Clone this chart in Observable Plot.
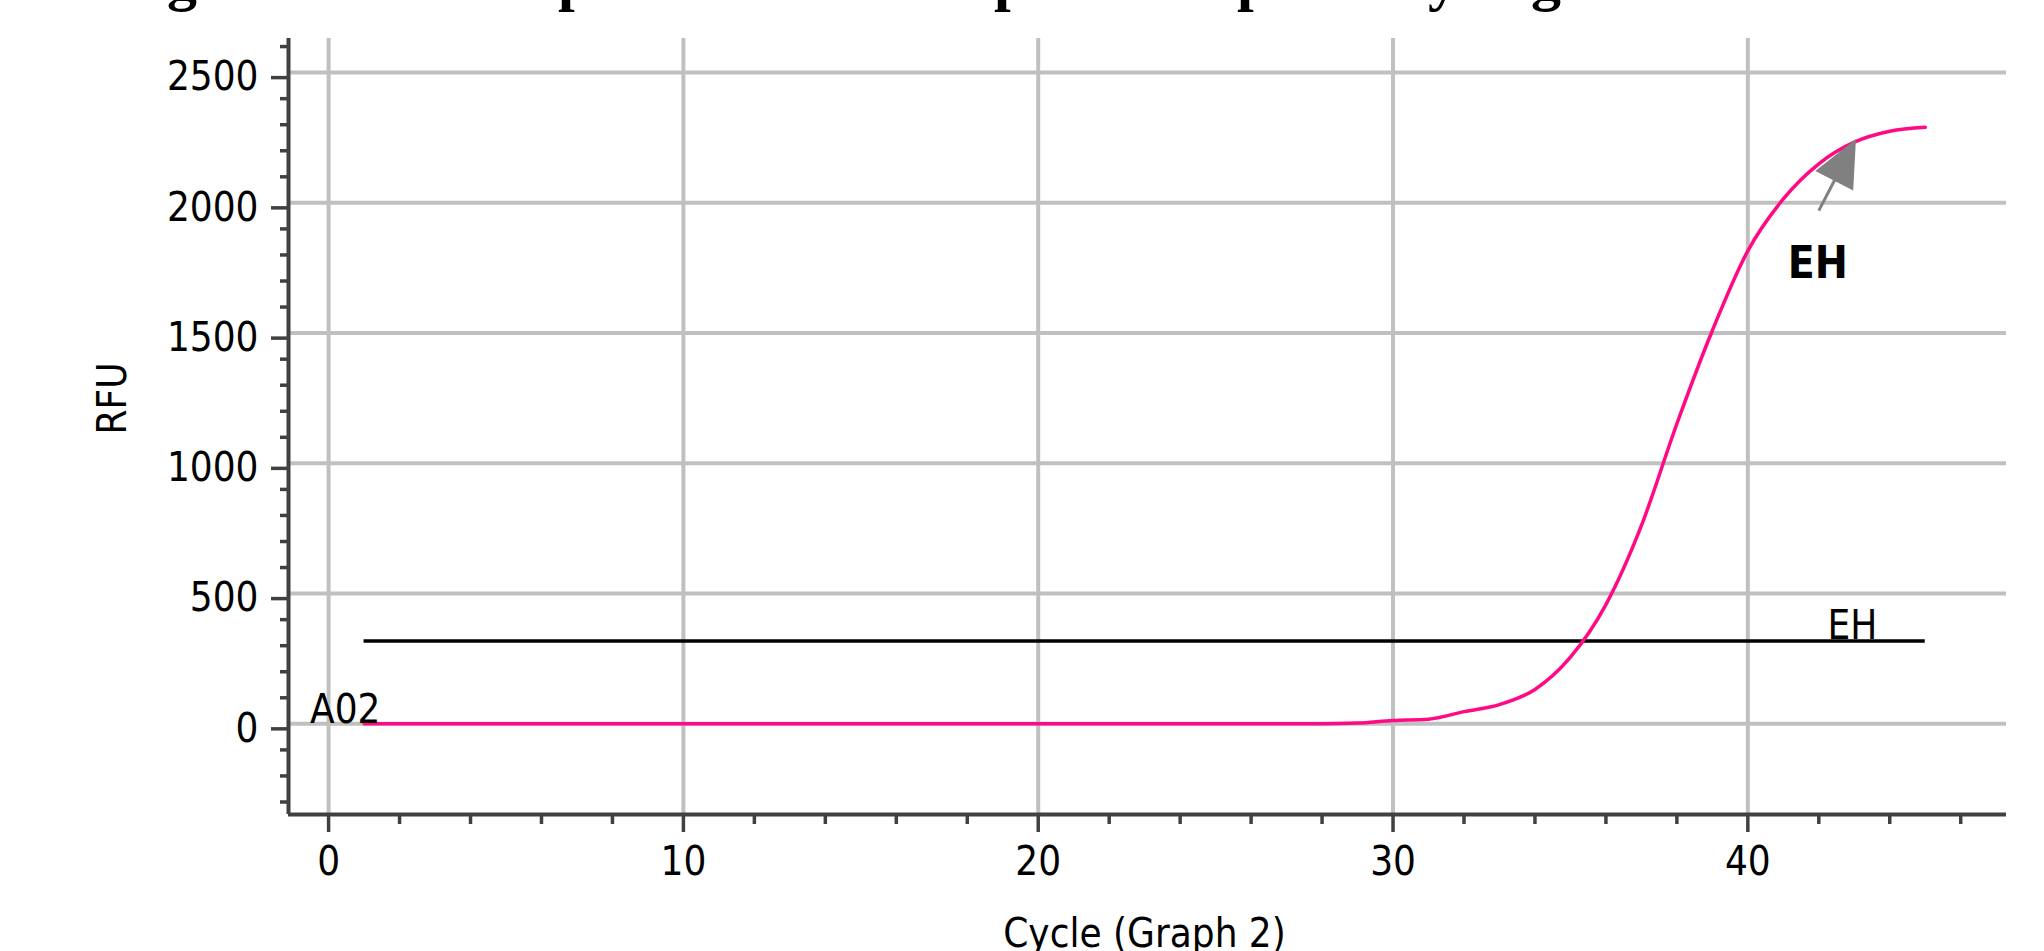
<!DOCTYPE html>
<html>
<head>
<meta charset="utf-8">
<script src="https://cdn.jsdelivr.net/npm/d3@7"></script>
<script src="https://cdn.jsdelivr.net/npm/@observablehq/plot@0.6"></script>
<style>
  html, body { margin: 0; padding: 0; background: #fff; overflow: hidden; }
  #wrap { position: relative; width: 2044px; height: 951px; }
  #wrap svg { display: block; }
  #caption { position: absolute; left: 0; top: 0; }
</style>
</head>
<body>
<div id="wrap">
  <svg id="caption" width="2044" height="14" xmlns="http://www.w3.org/2000/svg">
    <g font-family="'Liberation Serif', 'DejaVu Serif', serif" font-weight="bold" font-size="60" fill="#000">
      <text x="167" y="-1">g</text>
      <text x="558" y="-1">p</text>
      <text x="994" y="-1">p</text>
      <text x="1237" y="-1">p</text>
      <text x="1428" y="-1">y</text>
      <text x="1531" y="-1">g</text>
    </g>
  </svg>
</div>
<script>
// ---- data ----
const cycles = [1,2,3,4,5,6,7,8,9,10,11,12,13,14,15,16,17,18,19,20,21,22,23,24,25,26,27,28,29,30,31,32,33,34,35,36,37,38,39,40,41,42,43,44,45];
const rfu    = [0,0,0,0,0,0,0,0,0,0,0,0,0,0,0,0,0,0,0,0,0,0,0,0,0,0,0,0,3,13,18,47,74,132,256,458,761,1152,1510,1816,2015,2150,2233,2275,2290];
const sampleName = "A02";
const thresholdRFU = 318;
const thresholdSpan = [1, 45];
const thresholdName = "EH";
const arrowTail = [42, 1970];
const arrowTarget = [43, 2233];
const arrowLabel = "EH";
const xDomain = [-1.13, 47.29];
const yDomain = [-348, 2631];
const xMajorTicks = [0, 10, 20, 30, 40];
const xMinorTicks = [2, 4, 6, 8, 12, 14, 16, 18, 22, 24, 26, 28, 32, 34, 36, 38, 42, 44, 46];
const yMajorTicks = [0, 500, 1000, 1500, 2000, 2500];
const yMinorTicks = [-300, -200, -100, 100, 200, 300, 400, 600, 700, 800, 900, 1100, 1200, 1300, 1400, 1600, 1700, 1800, 1900, 2100, 2200, 2300, 2400, 2600];
const xLabel = "Cycle (Graph 2)";
const yLabel = "RFU";

// ---- layout ----
const W = 2044, H = 951;
const M = {top: 38, right: 38, bottom: 137, left: 288};
const font = "'DejaVu Sans Condensed', 'DejaVu Sans', sans-serif";
const axisColor = "#404040";
const gridColor = "#c0c0c0";
const curveColor = "#ff0a84";
const plain = d => String(d);

const curve = cycles.map((c, i) => ({cycle: c, rfu: rfu[i]}));

// scales used to orient the annotation arrow
const xs = Plot.scale({x: {domain: xDomain, range: [M.left, W - M.right]}});
const ys = Plot.scale({y: {domain: yDomain, range: [H - M.bottom, M.top]}});
const tx = xs.apply(arrowTail[0]), ty = ys.apply(arrowTail[1]);
const hx = xs.apply(arrowTarget[0]), hy = ys.apply(arrowTarget[1]);
const arrowLen = Math.hypot(hx - tx, hy - ty);
const arrowAngle = Math.atan2(hx - tx, -(hy - ty)) * 180 / Math.PI;
const filledArrow = {
  draw(ctx, l) {
    const hl = 42, hw = 19;
    ctx.moveTo(0, 0);
    ctx.lineTo(0, -l + hl);
    ctx.moveTo(-hw, -l + hl);
    ctx.lineTo(0, -l);
    ctx.lineTo(hw, -l + hl);
    ctx.closePath();
  }
};

const chart = Plot.plot({
  width: W,
  height: H,
  marginTop: M.top,
  marginRight: M.right,
  marginBottom: M.bottom,
  marginLeft: M.left,
  x: {domain: xDomain, axis: null, label: null},
  y: {domain: yDomain, axis: null, label: null},
  style: {fontFamily: font, fontStretch: "condensed", background: "white", color: "black"},
  marks: [
    Plot.gridX(xMajorTicks, {stroke: gridColor, strokeOpacity: 1, strokeWidth: 4}),
    Plot.gridY(yMajorTicks, {stroke: gridColor, strokeOpacity: 1, strokeWidth: 4}),
    Plot.axisX(xMinorTicks, {anchor: "bottom", tickSize: 10, stroke: axisColor, strokeWidth: 3.5, fill: "none", label: null}),
    Plot.axisY(yMinorTicks, {anchor: "left", tickSize: 8, stroke: axisColor, strokeWidth: 3.5, fill: "none", label: null}),
    Plot.axisX(xMajorTicks, {anchor: "bottom", tickSize: 18, tickPadding: 14, tickFormat: plain, stroke: axisColor, strokeWidth: 3.5, fill: "black", fontSize: 40, label: null}),
    Plot.axisY(yMajorTicks, {anchor: "left", tickSize: 17, tickPadding: 13, tickFormat: plain, stroke: axisColor, strokeWidth: 3.5, fill: "black", fontSize: 40, dy: 5, label: null}),
    Plot.ruleX([xDomain[0]], {stroke: axisColor, strokeWidth: 4}),
    Plot.ruleY([yDomain[0]], {stroke: axisColor, strokeWidth: 4}),
    Plot.ruleY([thresholdRFU], {x1: () => thresholdSpan[0], x2: () => thresholdSpan[1], y: d => d, stroke: "black", strokeWidth: 3.7}),
    Plot.line(curve, {x: "cycle", y: "rfu", curve: "monotone-x", stroke: curveColor, strokeWidth: 3.5}),
    Plot.text([curve[0]], {x: "cycle", y: "rfu", text: () => sampleName, textAnchor: "start", lineAnchor: "bottom", dx: -54, dy: -1, fontSize: 40, fill: "black"}),
    Plot.text([thresholdRFU], {x: () => thresholdSpan[1], y: d => d, text: () => thresholdName, textAnchor: "end", lineAnchor: "bottom", dx: -48, dy: -2, fontSize: 40, fill: "black"}),
    Plot.vector([arrowTarget], {x: d => d[0], y: d => d[1], length: arrowLen, rotate: arrowAngle, anchor: "end", shape: filledArrow, stroke: "#808080", fill: "#808080", strokeWidth: 3, strokeLinejoin: "miter", strokeLinecap: "butt"}),
    Plot.text([arrowTail], {x: d => d[0], y: d => d[1], text: () => arrowLabel, fontWeight: "bold", fontSize: 44, lineAnchor: "top", dy: 36, dx: -1, fill: "black"}),
    Plot.text([yLabel], {frameAnchor: "left", text: d => d, rotate: -90, dx: -175, dy: 8, fontSize: 40, fill: "black"}),
    Plot.text([xLabel], {frameAnchor: "bottom", text: d => d, lineAnchor: "bottom", dx: -3, dy: 132, fontSize: 40, fill: "black"})
  ]
});
document.getElementById("wrap").insertBefore(chart, document.getElementById("caption"));
</script>
</body>
</html>
